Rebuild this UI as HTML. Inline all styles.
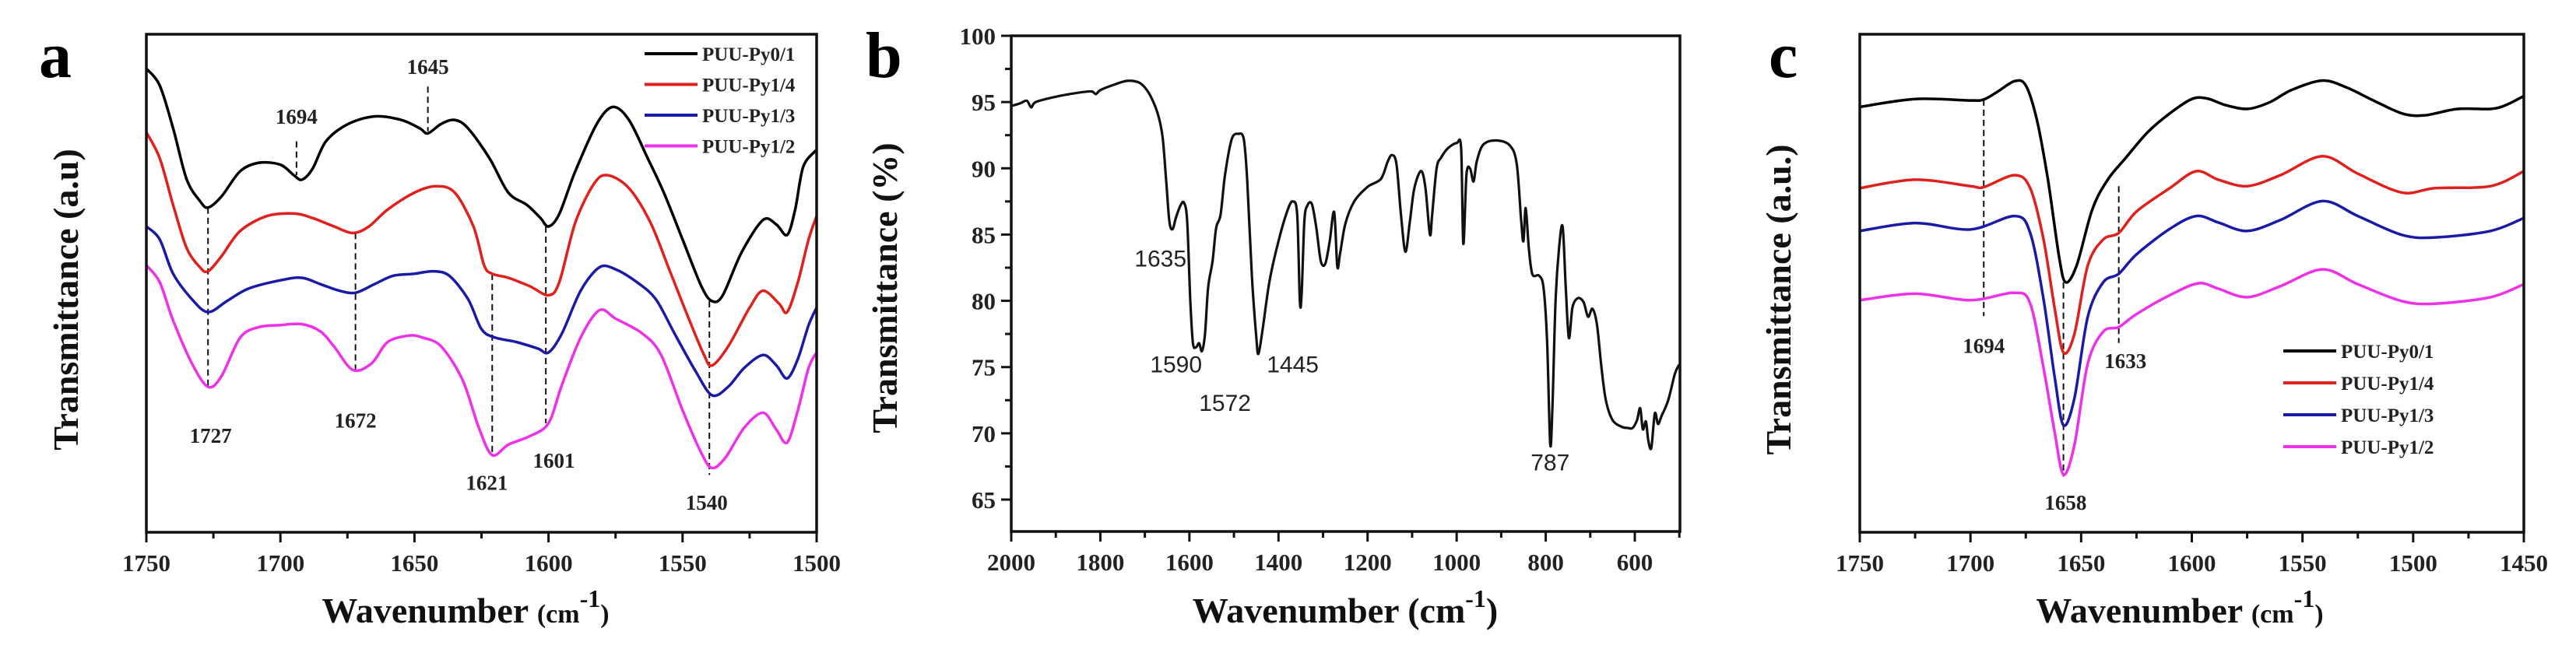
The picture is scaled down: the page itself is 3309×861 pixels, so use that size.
<!DOCTYPE html>
<html><head><meta charset="utf-8"><style>
html,body{margin:0;padding:0;background:#fff;}
svg{display:block;}
.tk{font-family:"Liberation Serif",serif;font-weight:bold;font-size:31px;fill:#222;}
.ttl{font-family:"Liberation Serif",serif;font-weight:bold;font-size:46px;fill:#111;}
.pl{font-family:"Liberation Serif",serif;font-weight:bold;font-size:84px;fill:#000;}
.an{font-family:"Liberation Serif",serif;font-weight:bold;font-size:27px;fill:#222;}
.ans{font-family:"Liberation Sans",sans-serif;font-size:30px;fill:#222;}
.lg{font-family:"Liberation Serif",serif;font-weight:bold;font-size:25px;fill:#222;}
</style></head><body>
<svg id="fig" width="3309" height="861" viewBox="0 0 3309 861" xmlns="http://www.w3.org/2000/svg"></svg>
<script>
// ---------- Panel a data ----------
const aBlackX=[1750,1745,1740,1735,1730,1727,1722,1715,1708,1700,1695,1692,1688,1683,1675,1665,1655,1648,1645,1640,1635,1630,1622,1615,1608,1603,1600,1596,1590,1582,1576,1570,1563,1557,1550,1543,1539,1535,1528,1520,1515,1511,1508,1505,1500];
const aBlackY=[93.1,89.7,81.1,70.9,66.5,65.2,67.4,72.5,74.2,73.8,71.7,70.8,73,78.5,81.9,83.5,82.8,81.1,80.1,82,82.8,81.1,75.1,68.2,65.7,63.1,61.4,63.9,72.5,82,85.4,82.8,75.1,68.2,58.8,49.4,46.4,47.6,56.2,62.7,61.8,59.7,64.8,73.4,76.8];
const aRedX=[1750,1745,1740,1735,1730,1727,1722,1715,1705,1695,1688,1680,1673,1667,1660,1650,1642,1635,1628,1624,1621,1615,1607,1600,1596,1590,1583,1578,1570,1562,1555,1548,1542,1539,1533,1525,1520,1514,1511,1507,1503,1500];
const aRedY=[80.3,75.1,65.7,57.1,53.2,52.4,55.4,60.5,63.5,64,63.1,61.4,60.1,61.4,64.8,68.2,69.5,68.2,61.4,53.6,51.9,51.1,49.4,47.6,50.2,62.2,70,71.7,69.1,62.2,52.8,43.3,35.6,33.5,37.3,45.1,48.5,45.9,44.2,50.2,58.8,63.5];
const aBlueX=[1750,1745,1740,1733,1727,1720,1712,1700,1692,1685,1678,1672,1665,1658,1650,1643,1637,1630,1625,1620,1612,1604,1600,1595,1588,1581,1575,1567,1560,1553,1545,1539,1533,1527,1520,1515,1511,1507,1503,1500];
const aBlueY=[61.4,58.8,51.9,46.8,44.2,46.4,48.9,50.6,51.1,49.8,48.5,48.1,49.8,51.5,51.9,52.4,51.5,46.8,40.8,39.1,38.2,36.9,36.1,39.9,48.5,53.2,52.8,50.2,46.8,39.9,32.2,27.5,29.2,33,35.6,33.5,30.9,34.8,41.6,45.1];
const aPinkX=[1750,1745,1740,1733,1727,1722,1715,1708,1700,1692,1685,1680,1673,1666,1660,1652,1647,1640,1632,1626,1621,1615,1607,1600,1595,1588,1581,1575,1565,1558,1550,1543,1539,1534,1527,1520,1515,1511,1507,1503,1500];
const aPinkY=[53.6,50.2,42.5,33.9,29.2,31.3,39.1,41.2,41.6,41.8,40.3,37.3,32.6,33.9,38.2,39.5,39.1,37.3,30.5,21,15.5,17.6,19.3,21.9,29.6,39.1,44.6,42.9,39.9,35.6,24.5,15.9,12.9,15,21,24,20.6,18,24.5,33,36.1];
const aTicks=[1750,1700,1650,1600,1550,1500];
const aTickLabels=["1750","1700","1650","1600","1550","1500"];
const aMarkWn=[1727,1694,1645,1672,1621,1601,1540];
const aMarkTop=[65.2,78.5,89.5,60.1,51.9,61.4,46.4];
const aMarkBot=[29.2,71.7,80.5,32.6,15.5,21.9,11.5];
const aLabels=["1727","1694","1645","1672","1621","1601","1540"];
const aLabelWn=[1726,1694,1645,1672,1623,1598,1541];
const aLabelVal=[18,82,92,21,8.5,13,4.5];
const seriesNames=["PUU-Py0/1","PUU-Py1/4","PUU-Py1/3","PUU-Py1/2"];
const seriesColors=["#000000","#e0201c","#1a1aa8","#ee30e8"];

// ---------- Panel b data ----------
const bX=[2000,1980,1965,1955,1945,1900,1850,1820,1810,1800,1770,1740,1715,1700,1685,1670,1660,1652,1645,1638,1630,1620,1612,1605,1598,1592,1585,1578,1572,1565,1558,1548,1540,1530,1520,1505,1490,1478,1470,1460,1450,1445,1435,1420,1400,1380,1368,1358,1352,1348,1342,1335,1325,1315,1305,1295,1285,1275,1268,1262,1250,1230,1200,1170,1155,1145,1135,1125,1115,1105,1095,1080,1070,1060,1055,1045,1035,1020,1000,990,985,978,970,962,955,940,910,880,865,855,850,845,838,830,815,805,797,790,785,778,770,762,755,748,740,728,715,705,695,685,675,665,650,630,615,605,595,588,582,575,570,563,555,548,540,525,510,500];
const bY=[94.7,94.9,95.1,94.6,95.0,95.4,95.7,95.8,95.6,95.9,96.3,96.6,96.5,96.1,95.3,94,92.3,89,86,85.4,86.3,87.2,87.4,86,80,76.8,76.5,76.8,76.2,77.5,81,83,85.5,86.5,89.5,92.2,92.6,92.2,89,82,77.3,76,78,81.5,84.5,86.8,87.5,86.5,80,80.5,86,87.2,87.3,85.5,83,82.8,84.5,86.7,82.6,83.5,85.8,87.5,88.6,89.2,90.5,91,90.3,86.5,83.7,86,88.5,89.8,88.5,85,86.5,90,90.8,91.5,91.9,91.5,84.3,89.5,90,89,90.5,91.8,92.1,91.7,90.3,86,84.5,87,84,82,81.9,81,77,69.2,72,80,84,85.6,81,77.2,79.5,80.2,79.9,78.8,79.4,78.2,75,72.5,71,70.5,70.4,70.4,71,71.9,70.3,70.9,69.5,68.9,71.5,70.7,71.3,72.5,74.5,75.2];
const bXTicks=[2000,1800,1600,1400,1200,1000,800,600];
const bXTickLabels=["2000","1800","1600","1400","1200","1000","800","600"];
const bYTicks=[65,70,75,80,85,90,95,100];
const bYTickLabels=["65","70","75","80","85","90","95","100"];
const bLabels=["1635","1590","1572","1445","787"];
const bLabelWn=[1665,1630,1520,1368,790];
const bLabelVal=[82.6,74.6,71.7,74.6,67.2];

// ---------- Panel c data ----------
const cBlackX=[1750,1725,1700,1694,1688,1680,1675,1670,1665,1660,1657,1652,1645,1638,1630,1620,1610,1600,1593,1585,1575,1565,1555,1541,1530,1518,1505,1495,1480,1465,1458,1450];
const cBlackY=[85.4,87,86.7,86.9,88.4,90.6,89.7,82.8,70.8,55.4,50.2,53.6,64.8,70.8,75.1,80.3,84.1,87,87.1,85.8,85,86.3,88.8,90.7,89.3,86.7,84.1,83.7,85,85,85.8,87.6];
const cRedX=[1750,1725,1700,1694,1680,1673,1667,1662,1658,1653,1647,1640,1633,1625,1610,1598,1588,1575,1560,1541,1525,1505,1490,1465,1450];
const cRedY=[69.1,70.8,69.5,69.3,71.7,69.1,58.8,45.1,36.1,39.9,53.6,58.8,60.1,64.4,69.1,72.5,70.8,69.5,71.7,75.5,72,68.2,69.1,69.5,72.5];
const cBlueX=[1750,1725,1700,1680,1673,1667,1662,1658,1653,1647,1640,1633,1625,1610,1598,1588,1575,1560,1541,1525,1505,1490,1465,1450];
const cBlueY=[60.5,62.1,60.8,63.5,60.1,46.8,31.3,21.5,27,43.3,50.2,51.9,55.8,60.9,63.5,62.2,60.5,62.7,66.5,63.5,59.7,59.2,60.5,63.1];
const cPinkX=[1750,1725,1700,1680,1673,1667,1662,1658,1653,1647,1640,1633,1625,1610,1597,1588,1575,1560,1541,1525,1505,1490,1465,1450];
const cPinkY=[46.6,47.9,46.6,48.1,45.9,33,20.2,11.6,17.6,33.9,40.3,41.2,43.8,47.6,50,48.9,47.2,49.4,52.8,49.8,46.4,45.9,47.2,49.8];
const cTicks=[1750,1700,1650,1600,1550,1500,1450];
const cTickLabels=["1750","1700","1650","1600","1550","1500","1450"];
const cMarkWn=[1694,1658,1633];
const cMarkTop=[86.9,50.2,69.5];
const cMarkBot=[43.4,11.2,38];
const cLabels=["1694","1658","1633"];
const cLabelWn=[1694,1657,1630];
const cLabelVal=[36,4.5,33];

// ---------- helpers ----------
const NS="http://www.w3.org/2000/svg";
const svg=document.getElementById('fig');
function mk(tag,attrs,parent){const e=document.createElementNS(NS,tag);for(const k in attrs)e.setAttribute(k,attrs[k]);(parent||svg).appendChild(e);return e;}
function lin(d0,d1,r0,r1){return v=>r0+(v-d0)/(d1-d0)*(r1-r0);}
function smoothPath(xs,ys,sx,sy){
  const p=xs.map((x,i)=>[sx(x),sy(ys[i])]);
  let d="M"+p[0][0].toFixed(1)+","+p[0][1].toFixed(1);
  for(let i=0;i<p.length-1;i++){
    const p0=p[i-1]||p[i],p1=p[i],p2=p[i+1],p3=p[i+2]||p2;
    const t=0.16;
    const c1=[p1[0]+(p2[0]-p0[0])*t,p1[1]+(p2[1]-p0[1])*t];
    const c2=[p2[0]-(p3[0]-p1[0])*t,p2[1]-(p3[1]-p1[1])*t];
    d+="C"+c1[0].toFixed(1)+","+c1[1].toFixed(1)+" "+c2[0].toFixed(1)+","+c2[1].toFixed(1)+" "+p2[0].toFixed(1)+","+p2[1].toFixed(1);
  }
  return d;
}
function frame(g,L,T,R,B){
  const r=mk('rect',{x:L,y:T,width:R-L,height:B-T,fill:'none',stroke:'#111','stroke-width':3.5},g);
  
  
}
function xTitle(g,cx,y,small){
  const t=mk('text',{x:cx,y:y,'text-anchor':'middle',class:'ttl'},g);
  
  
  t.innerHTML='Wavenumber <tspan font-size="'+(small?34:46)+'">(cm</tspan><tspan font-size="32" dy="-20">-1</tspan><tspan font-size="'+(small?34:46)+'" dy="20">)</tspan>';
}
function yTitle(g,x,cy,txt){
  const t=mk('text',{x:x,y:cy,'text-anchor':'middle',class:'ttl',transform:'rotate(-90 '+x+' '+cy+')'},g);
  
  
  t.textContent=txt;
}
function panelLabel(g,x,y,txt){
  const t=mk('text',{x:x,y:y,class:'pl'},g);
  
  
  t.textContent=txt;
}
function xTicks(g,ticks,labels,sx,B,minorStep,x0,x1){
  for(let v=Math.min(x0,x1);v<=Math.max(x0,x1)+0.001;v+=minorStep){
    const X=sx(v);
    const major=ticks.some(t=>Math.abs(t-v)<0.01);
    const l=mk('line',{x1:X,y1:B,x2:X,y2:B+(major?13:8),stroke:'#111','stroke-width':3},g);
    
    
  }
  ticks.forEach((v,i)=>{
    const t=mk('text',{x:sx(v),y:B+50,'text-anchor':'middle',class:'tk'},g);
    
    
    t.textContent=labels[i];
  });
}
function drawSeries(g,xsArr,ysArr,sx,sy){
  xsArr.forEach((xs,i)=>{
    const p=mk('path',{d:smoothPath(xs,ysArr[i],sx,sy),fill:'none',stroke:seriesColors[i],'stroke-width':3.5,'stroke-linejoin':'round'},g);
    
    
  });
}
function dashes(g,wn,top,bot,sx,sy){
  wn.forEach((w,i)=>{
    const l=mk('line',{x1:sx(w),x2:sx(w),y1:sy(top[i]),y2:sy(bot[i]),stroke:'#111','stroke-width':2,'stroke-dasharray':'8,5'},g);
    
    
  });
}
function annots(g,labels,wn,val,sx,sy,cls){
  labels.forEach((s,i)=>{
    const t=mk('text',{x:sx(wn[i]),y:sy(val[i]),'text-anchor':'middle',class:cls},g);
    
    
    t.textContent=s;
  });
}
function legend(g,x,y0,dy){
  seriesNames.forEach((n,i)=>{
    const y=y0+i*dy;
    const l=mk('line',{x1:x,x2:x+68,y1:y,y2:y,stroke:seriesColors[i],'stroke-width':4},g);
    
    
    const t=mk('text',{x:x+74,y:y+9,class:'lg'},g);
    
    
    t.textContent=n;
  });
}

// ---------- Panel a ----------
(function(){
  const g=mk('g',{});
  
  
  const L=188,R=1049,T=44,B=684;
  const sx=lin(1750,1500,L,R), sy=lin(0,100,B,T);
  const clip=mk('clipPath',{id:'ca'},g);mk('rect',{x:L,y:T,width:R-L,height:B-T},clip);
  const gg=mk('g',{'clip-path':'url(#ca)'},g);
  dashes(gg,aMarkWn,aMarkTop,aMarkBot,sx,sy);
  drawSeries(gg,[aBlackX,aRedX,aBlueX,aPinkX],[aBlackY,aRedY,aBlueY,aPinkY],sx,sy);
  annots(g,aLabels,aLabelWn,aLabelVal,sx,sy,'an');
  frame(g,L,T,R,B);
  xTicks(g,aTicks,aTickLabels,sx,B,25,1750,1500);
  legend(g,828,69,39.5);
  xTitle(g,598,800,true);
  yTitle(g,100,385,'Transmittance (a.u)');
  panelLabel(g,50,99,'a');
})();

// ---------- Panel b ----------
(function(){
  const g=mk('g',{});
  
  
  const L=1299,R=2158,T=46,B=683;
  const sx=lin(2000,1400,L,L+(2100-1299)*600/1400), sy=lin(100,65,T,642);
  const p=mk('path',{d:smoothPath(bX,bY,sx,sy),fill:'none',stroke:'#111','stroke-width':3.2,'stroke-linejoin':'round'},g);
  
  
  annots(g,bLabels,bLabelWn,bLabelVal,sx,sy,'ans');
  frame(g,L,T,R,B);
  xTicks(g,bXTicks,bXTickLabels,sx,B,100,2000,500);
  for(let v=65;v<=100;v+=2.5){
    const Y=sy(v),major=bYTicks.indexOf(v)>=0;
    const l=mk('line',{x1:L,x2:L-(major?13:8),y1:Y,y2:Y,stroke:'#111','stroke-width':3},g);
    
    
  }
  bYTicks.forEach((v,i)=>{
    const t=mk('text',{x:L-20,y:sy(v)+11,'text-anchor':'end',class:'tk'},g);
    
    
    t.textContent=bYTickLabels[i];
  });
  xTitle(g,1728,800,false);
  yTitle(g,1152,370,'Transmittance (%)');
  panelLabel(g,1112,99,'b');
})();

// ---------- Panel c ----------
(function(){
  const g=mk('g',{});
  
  
  const L=2389,R=3242,T=44,B=684;
  const sx=lin(1750,1450,L,R), sy=lin(0,100,B,T);
  dashes(g,cMarkWn,cMarkTop,cMarkBot,sx,sy);
  drawSeries(g,[cBlackX,cRedX,cBlueX,cPinkX],[cBlackY,cRedY,cBlueY,cPinkY],sx,sy);
  annots(g,cLabels,cLabelWn,cLabelVal,sx,sy,'an');
  frame(g,L,T,R,B);
  xTicks(g,cTicks,cTickLabels,sx,B,25,1750,1450);
  legend(g,2933,451,41);
  xTitle(g,2800,800,true);
  yTitle(g,2300,385,'Transmittance (a.u.)');
  panelLabel(g,2272,99,'c');
})();
</script>
</body></html>
